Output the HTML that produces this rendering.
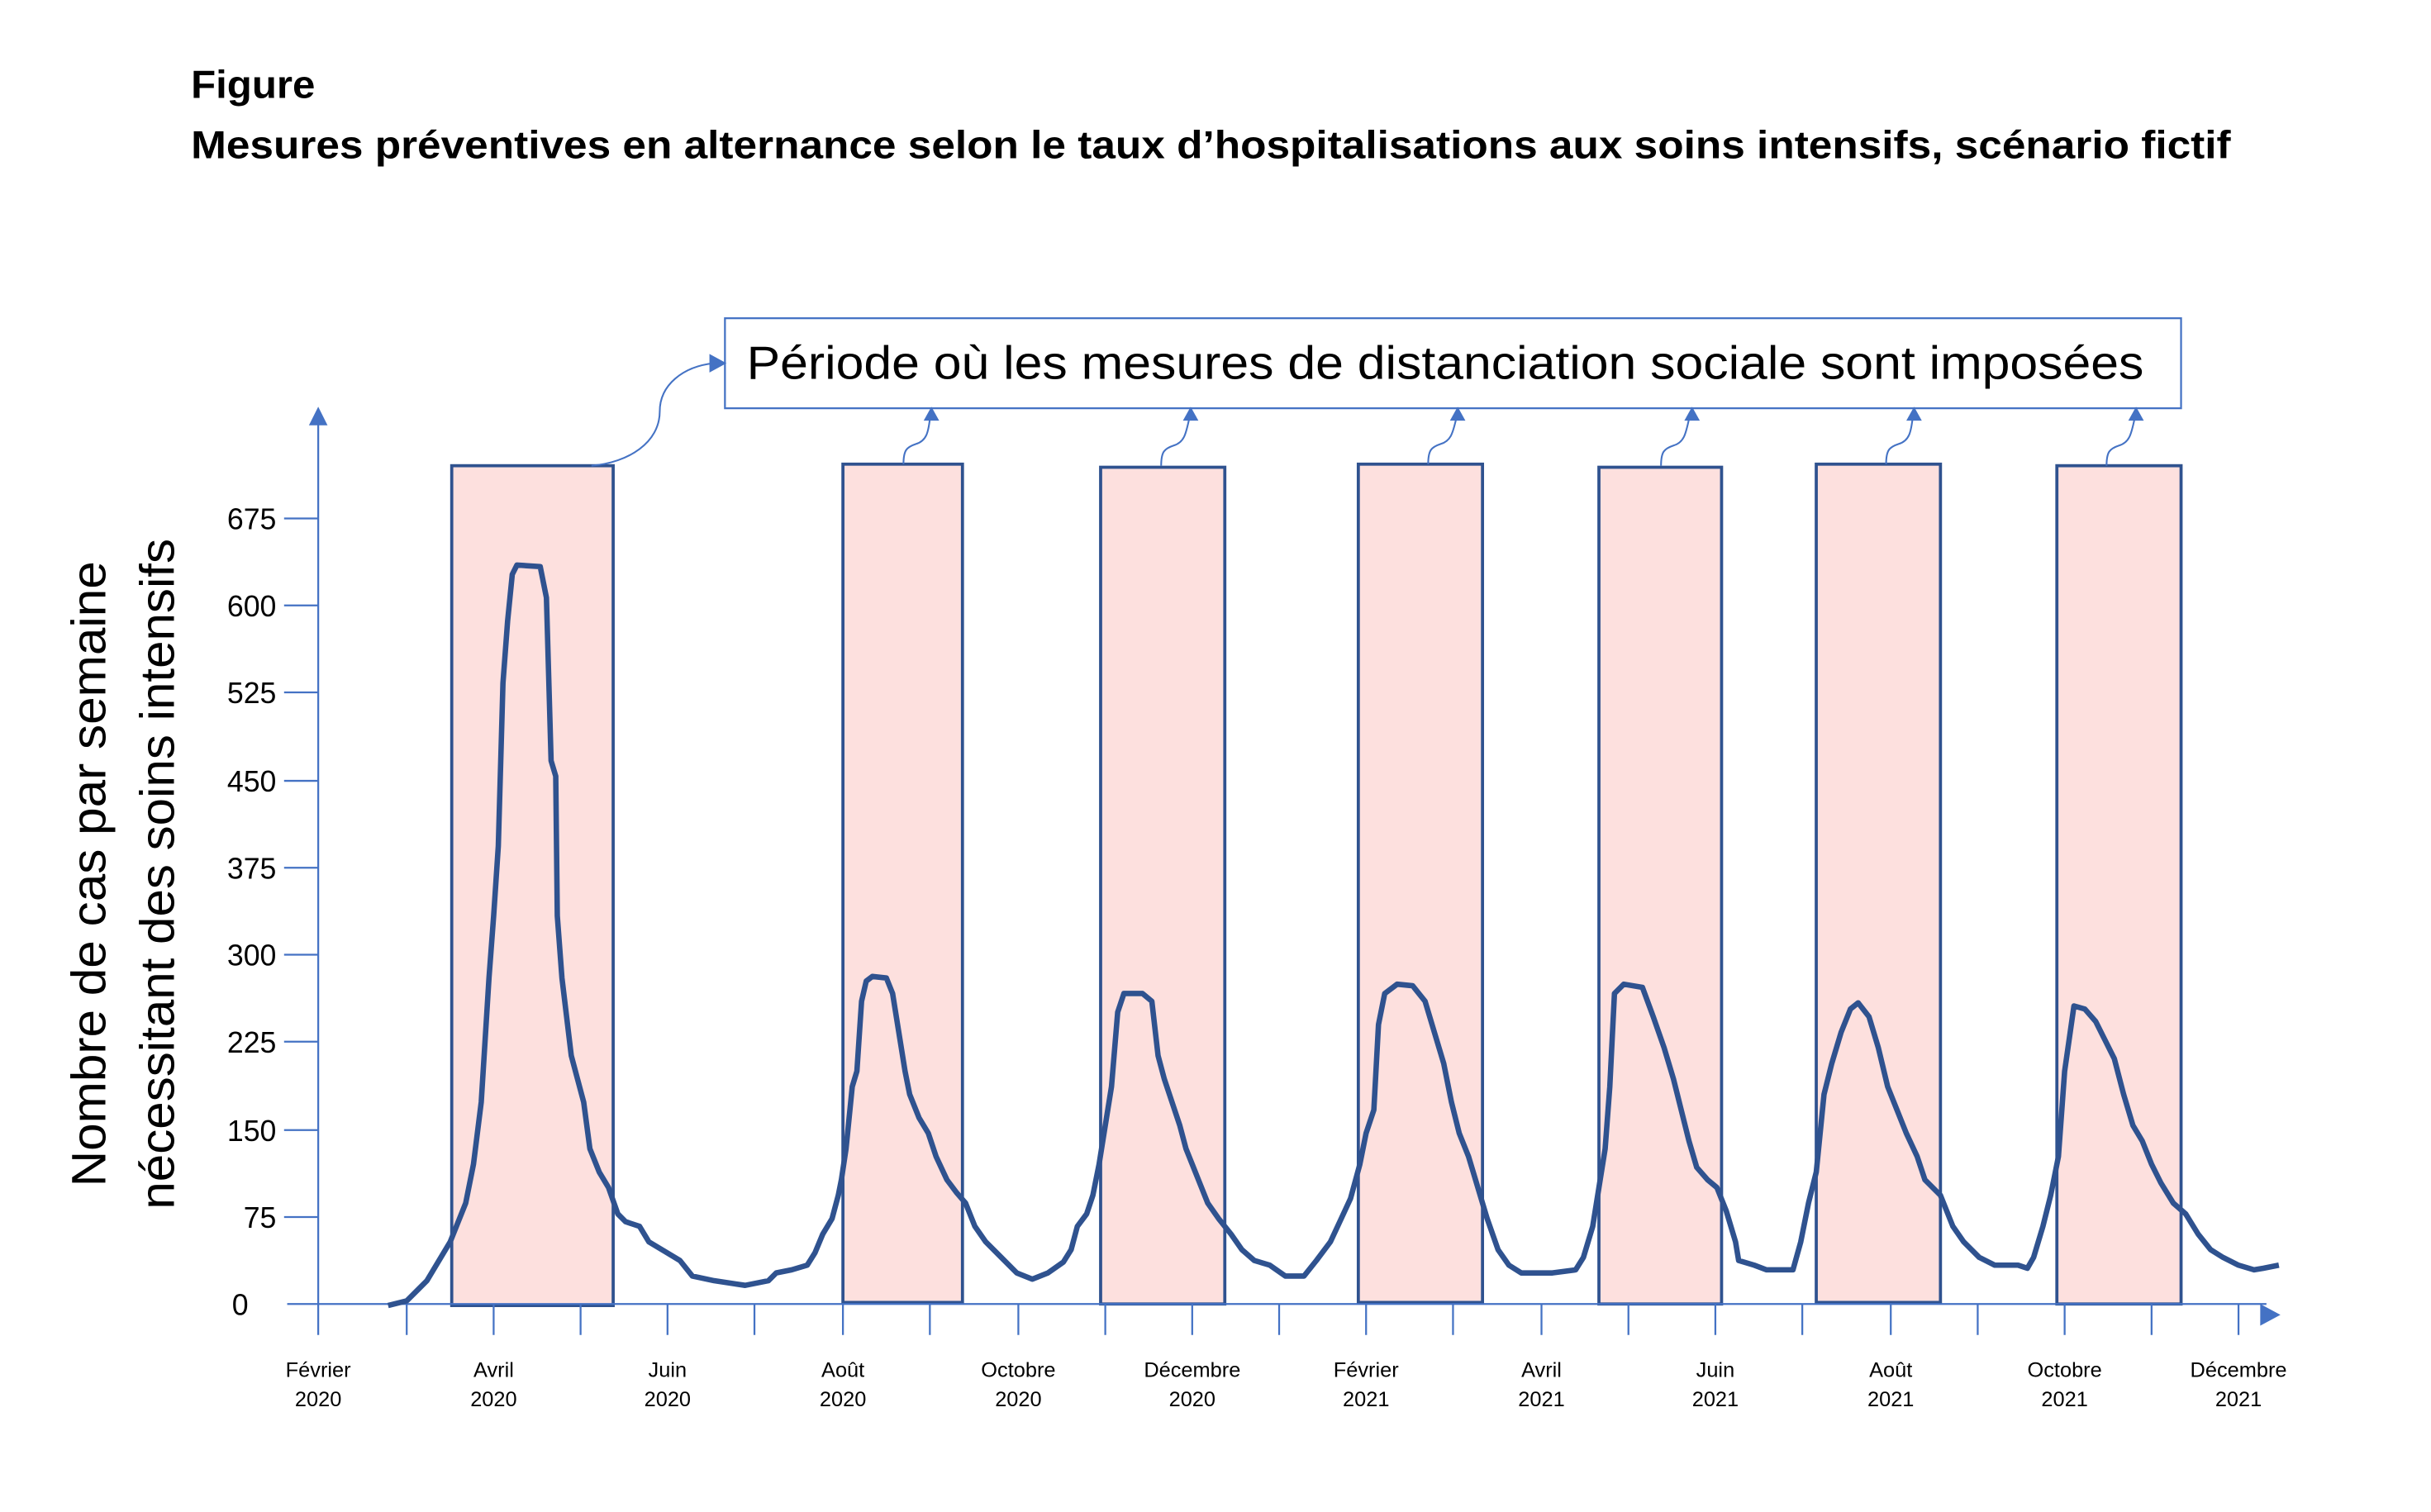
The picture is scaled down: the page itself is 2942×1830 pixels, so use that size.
<!DOCTYPE html>
<html><head><meta charset="utf-8"><style>html,body{margin:0;padding:0;background:#fff}svg{display:block}</style></head>
<body>
<svg width="2942" height="1830" viewBox="0 0 1566 974" preserveAspectRatio="none" xmlns="http://www.w3.org/2000/svg" font-family="Liberation Sans, sans-serif">
<rect width="1566" height="974" fill="#fff"/>
<text x="123" y="63" font-size="25" font-weight="bold" textLength="80" lengthAdjust="spacingAndGlyphs">Figure</text>
<text x="123" y="102" font-size="25" font-weight="bold" textLength="1314" lengthAdjust="spacingAndGlyphs">Mesures préventives en alternance selon le taux d’hospitalisations aux soins intensifs, scénario fictif</text>

<g fill="#FDE0DE" stroke="#2F528F" stroke-width="2">
<rect x="291" y="300" width="104" height="541"/>
<rect x="543" y="299" width="77" height="540"/>
<rect x="709" y="301" width="80" height="539"/>
<rect x="875" y="299" width="80" height="540"/>
<rect x="1030" y="301" width="79" height="539"/>
<rect x="1170" y="299" width="80" height="540"/>
<rect x="1325" y="300" width="80" height="540"/>
</g>

<g stroke="#4472C4" stroke-width="1.2" fill="none">
<line x1="205" y1="270" x2="205" y2="860"/>
<line x1="185" y1="840" x2="1460" y2="840"/>
<path d="M183 334H205M183 390H205M183 446H205M183 503H205M183 559H205M183 615H205M183 671H205M183 728H205M183 784H205"/>
<path d="M262 840V860M318 840V860M374 840V860M430 840V860M486 840V860M543 840V860M599 840V860M656 840V860M712 840V860M768 840V860M824 840V860M880 840V860M936 840V860M993 840V860M1049 840V860M1105 840V860M1161 840V860M1218 840V860M1274 840V860M1330 840V860M1386 840V860M1442 840V860"/>
</g>
<polygon points="205,262 199,274 211,274" fill="#4472C4"/>
<polygon points="1469,847 1456,840 1456,854" fill="#4472C4"/>

<g font-size="19" text-anchor="end" fill="#000">
<text x="178" y="341">675</text><text x="178" y="397">600</text><text x="178" y="453">525</text>
<text x="178" y="510">450</text><text x="178" y="566">375</text><text x="178" y="622">300</text>
<text x="178" y="678">225</text><text x="178" y="735">150</text><text x="178" y="791">75</text>
<text x="160" y="847">0</text>
</g>

<g font-size="13.5" text-anchor="middle" fill="#000">
<text x="205" y="887">Février</text><text x="205" y="906">2020</text>
<text x="318" y="887">Avril</text><text x="318" y="906">2020</text>
<text x="430" y="887">Juin</text><text x="430" y="906">2020</text>
<text x="543" y="887">Août</text><text x="543" y="906">2020</text>
<text x="656" y="887">Octobre</text><text x="656" y="906">2020</text>
<text x="768" y="887">Décembre</text><text x="768" y="906">2020</text>
<text x="880" y="887">Février</text><text x="880" y="906">2021</text>
<text x="993" y="887">Avril</text><text x="993" y="906">2021</text>
<text x="1105" y="887">Juin</text><text x="1105" y="906">2021</text>
<text x="1218" y="887">Août</text><text x="1218" y="906">2021</text>
<text x="1330" y="887">Octobre</text><text x="1330" y="906">2021</text>
<text x="1442" y="887">Décembre</text><text x="1442" y="906">2021</text>
</g>

<g font-size="31" text-anchor="middle" fill="#000">
<text transform="translate(68,563) rotate(-90)" textLength="403" lengthAdjust="spacingAndGlyphs">Nombre de cas par semaine</text>
<text transform="translate(112,563) rotate(-90)" textLength="432" lengthAdjust="spacingAndGlyphs">nécessitant des soins intensifs</text>
</g>

<rect x="467" y="205" width="938" height="58" fill="#fff" stroke="#4472C4" stroke-width="1.2"/>
<text x="481" y="244" font-size="30" textLength="900" lengthAdjust="spacingAndGlyphs">Période où les mesures de distanciation sociale sont imposées</text>

<g stroke="#4472C4" stroke-width="1.1" fill="none">
<path d="M381 300C405 298 425 285 425 265C425 248 440 236 460 234"/>
<path d="M582 299C582 290 584 288 590 286C597 284 598 278 599 270"/>
<path d="M748 300C748 291 750 289 756 287C763 285 764 279 766 270"/>
<path d="M920 299C920 290 922 288 928 286C935 284 936 278 938 270"/>
<path d="M1070 300C1070 291 1072 289 1078 287C1085 285 1086 279 1088 270"/>
<path d="M1215 299C1215 290 1217 288 1223 286C1230 284 1231 278 1232 270"/>
<path d="M1357 300C1357 291 1359 289 1365 287C1372 285 1373 279 1375 270"/>
</g>
<g fill="#4472C4">
<polygon points="468,234 457,228 457,240"/>
<polygon points="600,262 595,271 605,271"/>
<polygon points="767,262 762,271 772,271"/>
<polygon points="939,262 934,271 944,271"/>
<polygon points="1090,262 1085,271 1095,271"/>
<polygon points="1233,262 1228,271 1238,271"/>
<polygon points="1376,262 1371,271 1381,271"/>
</g>

<polyline fill="none" stroke="#2F528F" stroke-width="3.5" stroke-linejoin="round" points="250,841 262,838 275,825 290,800 300,775 305,750 310,710 315,630 318,590 321,545 324,440 327,400 330,370 333,364 348,365 352,385 355,490 358,500 359,590 362,630 365,655 368,680 372,695 376,710 380,740 386,755 392,765 398,782 403,787 412,790 418,800 428,806 438,812 446,822 460,825 480,828 495,825 500,820 510,818 520,815 525,807 530,795 536,785 540,770 542,760 545,740 549,700 552,690 555,645 558,632 562,629 571,630 575,640 579,665 583,690 586,705 592,720 598,730 603,745 610,760 616,768 622,775 628,790 635,800 645,810 655,820 665,824 675,820 685,813 690,805 694,790 700,782 704,770 708,750 712,725 716,700 720,652 724,640 736,640 742,645 746,680 750,695 755,710 760,725 764,740 768,750 772,760 778,775 785,785 793,795 800,805 808,812 818,815 828,822 840,822 848,812 857,800 864,785 870,772 876,750 880,730 885,715 888,660 892,640 900,634 910,635 918,645 924,665 930,685 935,710 940,730 946,745 952,765 958,785 965,805 972,815 980,820 1000,820 1015,818 1020,810 1026,790 1030,765 1034,740 1037,700 1040,640 1046,634 1058,636 1065,655 1072,675 1078,695 1083,715 1088,735 1093,752 1100,760 1106,765 1112,780 1118,800 1120,812 1130,815 1138,818 1155,818 1160,800 1165,775 1170,755 1175,705 1180,685 1186,665 1192,650 1197,646 1204,655 1210,675 1216,700 1222,715 1228,730 1235,745 1240,760 1250,770 1258,790 1265,800 1275,810 1285,815 1300,815 1306,817 1310,810 1316,790 1321,770 1326,745 1330,690 1336,648 1343,650 1350,658 1356,670 1362,682 1368,705 1374,725 1380,735 1386,750 1392,762 1400,775 1408,782 1416,795 1424,805 1432,810 1442,815 1452,818 1458,817 1468,815"/>
</svg>
</body></html>
